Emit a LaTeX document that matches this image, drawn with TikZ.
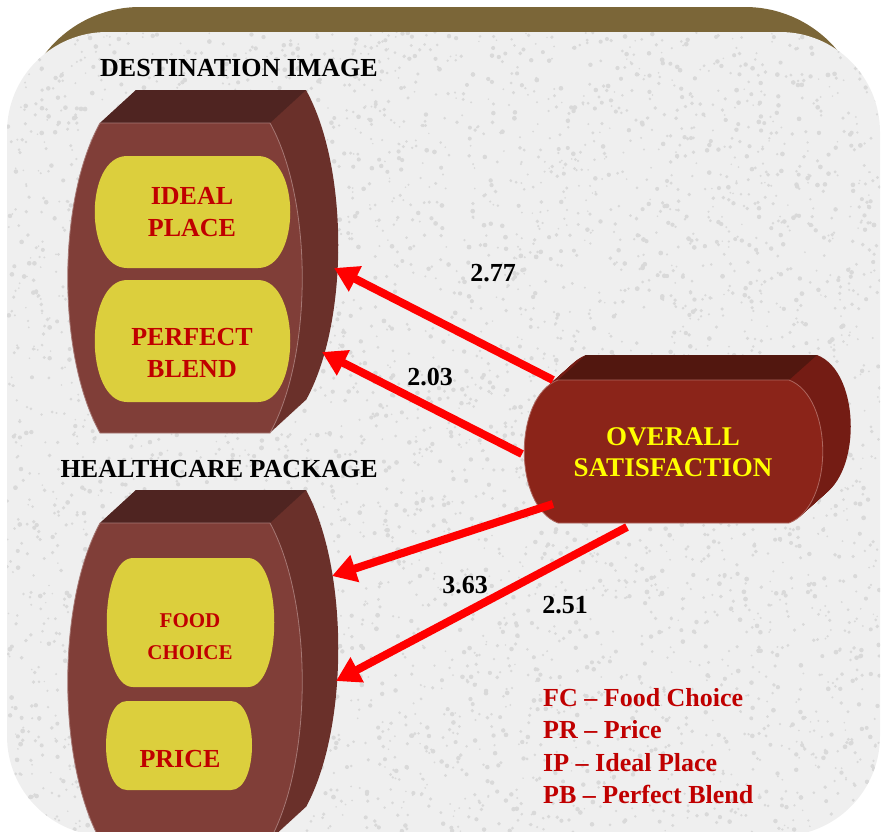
\documentclass[tikz,border=0pt]{standalone}
\usepackage{fontspec}
\setmainfont{Liberation Serif}
\usetikzlibrary{arrows.meta}

\definecolor{bevel}{HTML}{7B6638}
\definecolor{granite}{HTML}{EFEFEF}
\definecolor{speck}{HTML}{D9D9D9}
\definecolor{barrelfront}{HTML}{803E38}
\definecolor{barreltop}{HTML}{4F2421}
\definecolor{barrelside}{HTML}{6A302A}
\definecolor{padfill}{HTML}{DCCF3D}
\definecolor{padtext}{HTML}{C00000}
\definecolor{hubfront}{HTML}{8B2419}
\definecolor{hubtop}{HTML}{52170F}
\definecolor{hubside}{HTML}{741C14}
\definecolor{hubtext}{HTML}{FFFF00}
\definecolor{pathred}{HTML}{FF0000}

% x1 y1 x2 y2 = ends of the flat edges, #5 = bulge of the sides, #6 = how square the corners are
\newcommand{\barrel}[6]{(#1,#2) -- (#3,#2)
  .. controls ({#3+#5},{#2+#6*(#4-#2)}) and ({#3+#5},{#4-#6*(#4-#2)}) .. (#3,#4)
  -- (#1,#4)
  .. controls ({#1-#5},{#4-#6*(#4-#2)}) and ({#1-#5},{#2+#6*(#4-#2)}) .. cycle}

\tikzset{
  heading/.style={font=\fontsize{26}{30}\selectfont\bfseries, inner sep=0pt, anchor=base east},
  padlabel/.style={font=\fontsize{26}{32}\selectfont\bfseries, text=padtext, align=center, inner sep=0pt},
  hublabel/.style={font=\fontsize{27}{31}\selectfont\bfseries, text=hubtext, align=center, inner sep=0pt},
  weight/.style={font=\fontsize{26}{30}\selectfont\bfseries, inner sep=0pt},
  legend/.style={font=\fontsize{26}{30}\selectfont\bfseries, text=padtext, inner sep=0pt, anchor=base west},
  effect/.style={draw=pathred, line width=8pt, -{Triangle[length=24pt,width=27pt]}}
}

\begin{document}
\begin{tikzpicture}[x=1pt,y=-1pt]
  \useasboundingbox (0,0) rectangle (883,831);
  \clip (0,0) rectangle (883,831);
  % board
  \fill[bevel, rounded corners=120pt] (20,7) rectangle (865,700);
  \begin{scope}
    \clip[rounded corners=100pt] (7,32) rectangle (880,836);
    \fill[granite] (0,0) rectangle (883,900);
    \pgfmathsetseed{17}
    \foreach \i in {1,...,5000}
      \fill[speck] ({7+873*rnd},{32+800*rnd}) circle ({0.8+1.6*rnd});
  \end{scope}

  % destination image
  \foreach \k in {1,...,36}
    \fill[barrelside, shift={(\k,-\k*33/36)}] \barrel{100}{123}{270}{433}{43}{0.25};
  \fill[barreltop] (100,123) -- (270,123) -- (306,90) -- (136,90) -- cycle;
  \fill[barrelfront, draw=barrelfront!70!white, line width=0.8pt] \barrel{100}{123}{270}{433}{43}{0.25};
  \fill[padfill] \barrel{127}{156}{258}{268}{43}{0};
  \fill[padfill] \barrel{127}{280}{258}{402}{43}{0};
  \node[padlabel] (ideal) at (192,212) {IDEAL\\PLACE};
  \node[padlabel] (perfect) at (192,353) {PERFECT\\BLEND};
  \node[heading] (destination) at (378,76) {DESTINATION IMAGE};

  % healthcare package
  \foreach \k in {1,...,36}
    \fill[barrelside, shift={(\k,-\k*33/36)}] \barrel{100}{523}{270}{840}{43}{0.25};
  \fill[barreltop] (100,523) -- (270,523) -- (306,490) -- (136,490) -- cycle;
  \fill[barrelfront, draw=barrelfront!70!white, line width=0.8pt] \barrel{100}{523}{270}{840}{43}{0.25};
  \fill[padfill] \barrel{133}{558}{248}{687}{35}{0};
  \fill[padfill] \barrel{127}{701}{231}{790}{28}{0};
  \node[padlabel, font=\fontsize{21}{32}\selectfont\bfseries] (food) at (190,637) {FOOD\\CHOICE};
  \node[padlabel] (price) at (180,759) {PRICE};
  \node[heading] (healthcare) at (378,477) {HEALTHCARE PACKAGE};

  % overall satisfaction
  \foreach \k in {1,...,28}
    \fill[hubside, shift={(\k,-\k*25/28)}] \barrel{558}{380}{789}{523}{45}{0.12};
  \fill[hubtop] (558,380) -- (789,380) -- (817,355) -- (586,355) -- cycle;
  \fill[hubfront, draw=hubfront!70!white, line width=0.8pt] \barrel{558}{380}{789}{523}{45}{0.12};
  \node[hublabel] (overall) at (673,452) {OVERALL\\SATISFACTION};

  % paths
  \coordinate (hub-a) at (553,380);
  \coordinate (hub-b) at (522,454);
  \coordinate (hub-c) at (553,504);
  \coordinate (hub-d) at (627,527);
  \coordinate (ideal-in) at (334,268);
  \coordinate (perfect-in) at (322,352);
  \coordinate (food-in) at (332,576);
  \coordinate (price-in) at (336,681);
  \draw[effect] (hub-a) -- (ideal-in);
  \draw[effect] (hub-b) -- (perfect-in);
  \draw[effect] (hub-c) -- (food-in);
  \draw[effect] (hub-d) -- (price-in);
  \node[weight] (w277) at (493,273) {2.77};
  \node[weight] (w203) at (430,377) {2.03};
  \node[weight] (w363) at (465,585) {3.63};
  \node[weight] (w251) at (565,605) {2.51};

  % key
  \node[legend] (legfc) at (543,706) {FC \textendash{} Food Choice};
  \node[legend] (legpr) at (543,738) {PR \textendash{} Price};
  \node[legend] (legip) at (543,771) {IP \textendash{} Ideal Place};
  \node[legend] (legpb) at (543,803) {PB \textendash{} Perfect Blend};
\end{tikzpicture}
\end{document}
